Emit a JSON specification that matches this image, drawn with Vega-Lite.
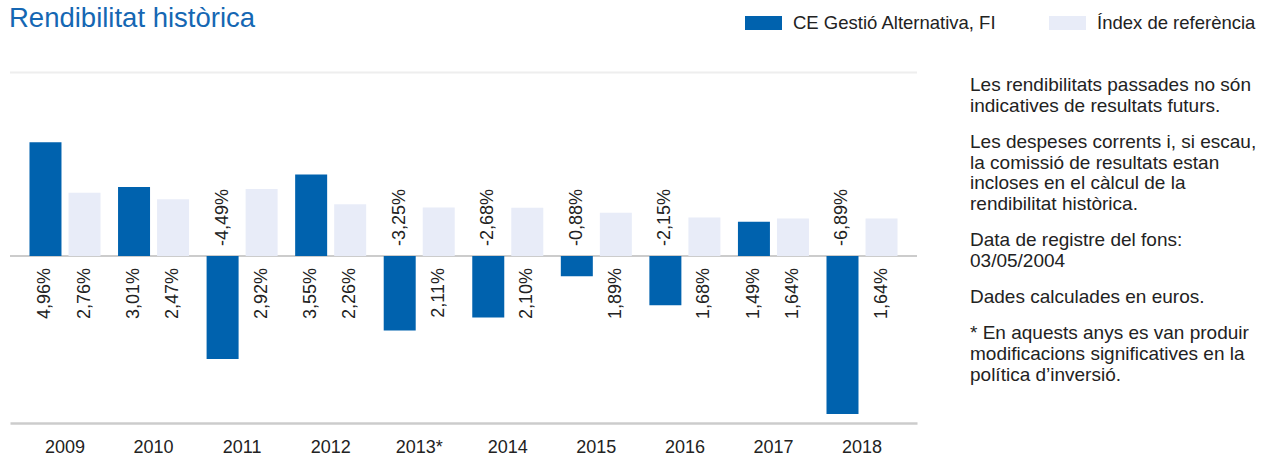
{
  "$schema": "https://vega.github.io/schema/vega-lite/v6.json",
  "autosize": {"type": "none"},
  "width": 907,
  "height": 350.5,
  "padding": {"left": 10, "top": 72.5, "right": 353, "bottom": 35},
  "background": "white",
  "title": {"text": "Rendibilitat històrica", "anchor": "start", "fontSize": 27.5, "fontWeight": "normal", "color": "#1567B3", "offset": -28, "font": "Liberation Sans"},
  "config": {
    "font": "Liberation Sans",
    "view": {"stroke": null},
    "locale": {"number": {"decimal": ",", "thousands": ".", "grouping": [3], "currency": ["", "€"], "minus": "-"}}
  },
  "resolve": {"scale": {"x": "independent", "y": "independent"}},
  "layer": [
    {
      "layer": [
        {
          "data": {"values": [{}]},
          "mark": {"type": "rule", "color": "#eeeeee", "strokeWidth": 2},
          "encoding": {"y": {"datum": 0.08, "type": "quantitative", "scale": {"domain": [-0.0728, 0.08], "nice": false}, "axis": null}}
        },
        {
          "data": {"values": [{}]},
          "mark": {"type": "rule", "color": "#cccccc", "strokeWidth": 2},
          "encoding": {"y": {"datum": 0, "type": "quantitative", "scale": {"domain": [-0.0728, 0.08], "nice": false}, "axis": null}}
        },
        {
          "data": {"name": "returns", "values": [
            {"year": "2009", "series": "CE Gestió Alternativa, FI", "value": 0.0496},
            {"year": "2009", "series": "Índex de referència", "value": 0.0276},
            {"year": "2010", "series": "CE Gestió Alternativa, FI", "value": 0.0301},
            {"year": "2010", "series": "Índex de referència", "value": 0.0247},
            {"year": "2011", "series": "CE Gestió Alternativa, FI", "value": -0.0449},
            {"year": "2011", "series": "Índex de referència", "value": 0.0292},
            {"year": "2012", "series": "CE Gestió Alternativa, FI", "value": 0.0355},
            {"year": "2012", "series": "Índex de referència", "value": 0.0226},
            {"year": "2013*", "series": "CE Gestió Alternativa, FI", "value": -0.0325},
            {"year": "2013*", "series": "Índex de referència", "value": 0.0211},
            {"year": "2014", "series": "CE Gestió Alternativa, FI", "value": -0.0268},
            {"year": "2014", "series": "Índex de referència", "value": 0.0210},
            {"year": "2015", "series": "CE Gestió Alternativa, FI", "value": -0.0088},
            {"year": "2015", "series": "Índex de referència", "value": 0.0189},
            {"year": "2016", "series": "CE Gestió Alternativa, FI", "value": -0.0215},
            {"year": "2016", "series": "Índex de referència", "value": 0.0168},
            {"year": "2017", "series": "CE Gestió Alternativa, FI", "value": 0.0149},
            {"year": "2017", "series": "Índex de referència", "value": 0.0164},
            {"year": "2018", "series": "CE Gestió Alternativa, FI", "value": -0.0689},
            {"year": "2018", "series": "Índex de referència", "value": 0.0164}
          ]},
          "layer": [
            {
              "mark": {"type": "bar"},
              "encoding": {
                "x": {"field": "year", "type": "nominal", "sort": null, "scale": {"paddingInner": 0.198, "paddingOuter": 0.22}, "axis": {"title": null, "ticks": false, "labelAngle": 0, "labelFontSize": 18, "labelColor": "#222222", "labelPadding": 15, "domainColor": "#cccccc", "domainWidth": 2.5, "grid": false}},
                "xOffset": {"field": "series", "type": "nominal", "sort": ["CE Gestió Alternativa, FI", "Índex de referència"], "scale": {"paddingInner": 0.18, "paddingOuter": 0}},
                "y": {"field": "value", "type": "quantitative", "scale": {"domain": [-0.0728, 0.08], "nice": false}, "axis": null},
                "color": {"field": "series", "type": "nominal", "sort": ["CE Gestió Alternativa, FI", "Índex de referència"],
                  "scale": {"domain": ["CE Gestió Alternativa, FI", "Índex de referència"], "range": ["#0062AE", "#E8ECF8"]},
                  "legend": {"title": null, "orient": "none", "legendX": 735, "legendY": -68, "direction": "horizontal", "symbolType": "M-1,-0.378H1V0.378H-1Z", "symbolSize": 1369, "symbolStrokeWidth": 0, "labelFontSize": 18.5, "labelColor": "#222222", "labelOffset": 11, "columnPadding": 52, "labelLimit": 400}
                }
              }
            },
            {
              "transform": [{"filter": "datum.value >= 0"}],
              "mark": {"type": "text", "angle": 270, "align": "right", "baseline": "middle", "dx": -12, "fontSize": 18, "color": "#222222"},
              "encoding": {
                "x": {"field": "year", "type": "nominal", "sort": null},
                "xOffset": {"field": "series", "type": "nominal", "sort": ["CE Gestió Alternativa, FI", "Índex de referència"]},
                "y": {"datum": 0, "type": "quantitative"},
                "text": {"field": "value", "type": "quantitative", "format": ".2%"}
              }
            },
            {
              "transform": [{"filter": "datum.value < 0"}],
              "mark": {"type": "text", "angle": 270, "align": "left", "baseline": "middle", "dx": 10, "fontSize": 18, "color": "#222222"},
              "encoding": {
                "x": {"field": "year", "type": "nominal", "sort": null},
                "xOffset": {"field": "series", "type": "nominal", "sort": ["CE Gestió Alternativa, FI", "Índex de referència"]},
                "y": {"datum": 0, "type": "quantitative"},
                "text": {"field": "value", "type": "quantitative", "format": ".2%"}
              }
            }
          ]
        }
      ]
    },
    {
      "data": {"values": [
        {"line": 0, "para": 0, "text": "Les rendibilitats passades no són"},
        {"line": 1, "para": 0, "text": "indicatives de resultats futurs."},
        {"line": 2, "para": 1, "text": "Les despeses corrents i, si escau,"},
        {"line": 3, "para": 1, "text": "la comissió de resultats estan"},
        {"line": 4, "para": 1, "text": "incloses en el càlcul de la"},
        {"line": 5, "para": 1, "text": "rendibilitat històrica."},
        {"line": 6, "para": 2, "text": "Data de registre del fons:"},
        {"line": 7, "para": 2, "text": "03/05/2004"},
        {"line": 8, "para": 3, "text": "Dades calculades en euros."},
        {"line": 9, "para": 4, "text": "* En aquests anys es van produir"},
        {"line": 10, "para": 4, "text": "modificacions significatives en la"},
        {"line": 11, "para": 4, "text": "política d’inversió."}
      ]},
      "encoding": {
        "x": {"datum": 0, "type": "quantitative", "scale": {"domain": [0, 1], "range": [960, 1250], "nice": false}, "axis": null},
        "y": {"field": "line", "type": "quantitative", "scale": {"domain": [0, 11], "range": [12.5, 240.2], "nice": false, "zero": false}, "axis": null},
        "text": {"field": "text"}
      },
      "layer": [
        {"transform": [{"filter": "datum.para == 0"}], "mark": {"type": "text", "align": "left", "baseline": "middle", "fontSize": 19, "color": "#222222", "dy": 0}},
        {"transform": [{"filter": "datum.para == 1"}], "mark": {"type": "text", "align": "left", "baseline": "middle", "fontSize": 19, "color": "#222222", "dy": 15.5}},
        {"transform": [{"filter": "datum.para == 2"}], "mark": {"type": "text", "align": "left", "baseline": "middle", "fontSize": 19, "color": "#222222", "dy": 31}},
        {"transform": [{"filter": "datum.para == 3"}], "mark": {"type": "text", "align": "left", "baseline": "middle", "fontSize": 19, "color": "#222222", "dy": 46.5}},
        {"transform": [{"filter": "datum.para == 4"}], "mark": {"type": "text", "align": "left", "baseline": "middle", "fontSize": 19, "color": "#222222", "dy": 62}}
      ]
    }
  ]
}
